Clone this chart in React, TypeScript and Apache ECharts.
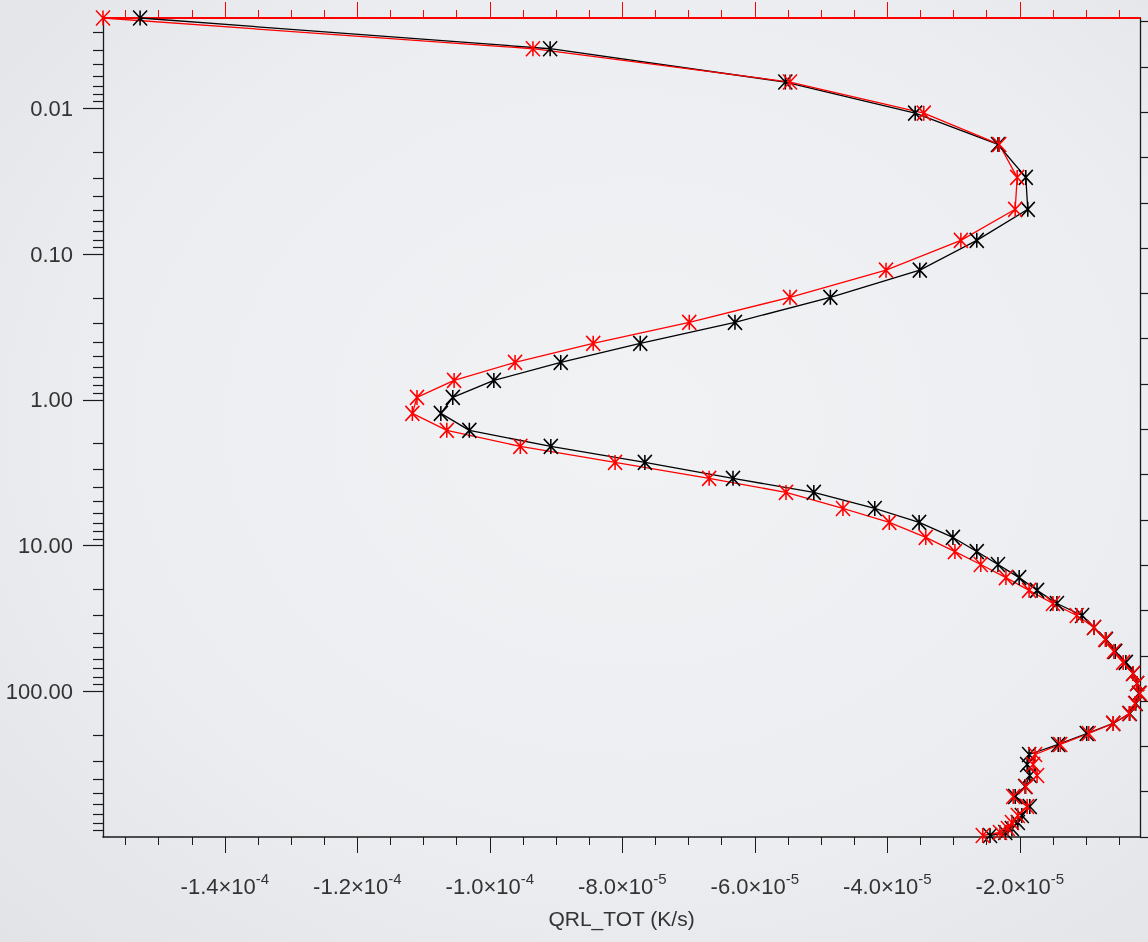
import React, { useEffect, useRef } from "react";
import * as echarts from "echarts";

// Pressure levels (hPa)
const levels = [
  0.0024, 0.0039, 0.0066, 0.0108, 0.0177, 0.0298, 0.0493, 0.0805, 0.129, 0.198,
  0.294, 0.41, 0.554, 0.736, 0.963, 1.24, 1.62, 2.09, 2.69, 3.46,
  4.32, 5.57, 6.94, 8.8, 11.0, 13.5, 16.6, 20.3, 25.0, 30.2,
  36.5, 44.1, 53.3, 63.4, 75.5, 88.4, 103.5, 121.3, 142.1, 166.3,
  194.9, 231.8, 271.6, 318.0, 378.4, 450.2, 527.2, 617.7, 712.0, 795.4,
  874.4, 931.3, 976.5,
];

// QRL_TOT (K/s), black profile
const blackValues = [
  -15.28e-5, -9.09e-5, -5.54e-5, -3.58e-5, -2.33e-5, -1.91e-5, -1.88e-5, -2.65e-5, -3.51e-5, -4.86e-5,
  -6.3e-5, -7.73e-5, -8.93e-5, -9.94e-5, -10.56e-5, -10.74e-5, -10.31e-5, -9.08e-5, -7.66e-5, -6.33e-5,
  -5.11e-5, -4.19e-5, -3.52e-5, -3.01e-5, -2.65e-5, -2.33e-5, -2.01e-5, -1.74e-5, -1.44e-5, -1.06e-5,
  -0.88e-5, -0.7e-5, -0.56e-5, -0.4e-5, -0.29e-5, -0.23e-5, -0.2e-5, -0.25e-5, -0.34e-5, -0.59e-5,
  -0.99e-5, -1.42e-5, -1.86e-5, -1.89e-5, -1.85e-5, -1.92e-5, -2.07e-5, -1.85e-5, -1.97e-5, -2.03e-5,
  -2.12e-5, -2.22e-5, -2.45e-5,
];

// QRL_TOT (K/s), red profile
const redValues = [
  -15.84e-5, -9.35e-5, -5.47e-5, -3.45e-5, -2.31e-5, -2.04e-5, -2.07e-5, -2.89e-5, -4.02e-5, -5.47e-5,
  -6.99e-5, -8.44e-5, -9.62e-5, -10.54e-5, -11.1e-5, -11.17e-5, -10.65e-5, -9.54e-5, -8.11e-5, -6.69e-5,
  -5.53e-5, -4.67e-5, -3.97e-5, -3.42e-5, -2.98e-5, -2.59e-5, -2.21e-5, -1.86e-5, -1.5e-5, -1.14e-5,
  -0.88e-5, -0.71e-5, -0.58e-5, -0.44e-5, -0.29e-5, -0.23e-5, -0.19e-5, -0.26e-5, -0.35e-5, -0.59e-5,
  -0.96e-5, -1.39e-5, -1.77e-5, -1.8e-5, -1.74e-5, -1.91e-5, -2.1e-5, -1.89e-5, -2.03e-5, -2.12e-5,
  -2.18e-5, -2.3e-5, -2.56e-5,
];

// Axis ranges and ticks
const X_MIN = -15.84e-5;
const X_MAX = -0.186e-5;
const xMajorTicks = [-14e-5, -12e-5, -10e-5, -8e-5, -6e-5, -4e-5, -2e-5];
const xMinorTicks = [
  -15.5e-5, -15e-5, -14.5e-5, -13.5e-5, -13e-5, -12.5e-5, -11.5e-5, -11e-5, -10.5e-5,
  -9.5e-5, -9e-5, -8.5e-5, -7.5e-5, -7e-5, -6.5e-5, -5.5e-5, -5e-5, -4.5e-5,
  -3.5e-5, -3e-5, -2.5e-5, -1.5e-5, -1e-5, -0.5e-5,
];
const P_MIN = 0.0024;
const P_MAX = 1000;
const pMajorTicks = [0.01, 0.1, 1, 10, 100];
const pMinorTicks = [
  0.003, 0.004, 0.005, 0.006, 0.007, 0.008, 0.009,
  0.02, 0.03, 0.04, 0.05, 0.06, 0.07, 0.08, 0.09,
  0.2, 0.3, 0.4, 0.5, 0.6, 0.7, 0.8, 0.9,
  2, 3, 4, 5, 6, 7, 8, 9,
  20, 30, 40, 50, 60, 70, 80, 90,
  200, 300, 400, 500, 600, 700, 800, 900,
];
const H_MAX = 90.4;
const heightTicks = [0, 5, 10, 15, 20, 25, 30, 35, 40, 45, 50, 55, 60, 65, 70, 75, 80, 85, 90];

const FONT = "'Liberation Sans', Arial, Helvetica, sans-serif";
const AXIS_BLACK = "#1a1a1a";
const RED = "#ff0000";

const asterisk = "path://M1,0L1,2M0,0L2,2M0,2L2,0";

function sciLabel(v: number): string {
  const exp = Math.floor(Math.log10(Math.abs(v)) + 1e-9);
  const mant = v / Math.pow(10, exp);
  return `{b|${mant.toFixed(1)}×10}{s|${exp}}`;
}

export default function App() {
  const ref = useRef<HTMLDivElement>(null);
  useEffect(() => {
    if (!ref.current) return;
    const chart = echarts.init(ref.current, null, { renderer: "svg" });
    const log = (p: number) => Math.log10(p);
    const lgMin = log(P_MIN);
    const lgMax = log(P_MAX);

    const baseHiddenX = {
      type: "value",
      min: X_MIN,
      max: X_MAX,
      splitLine: { show: false },
    };
    const baseHiddenY = {
      type: "value",
      min: lgMin,
      max: lgMax,
      inverse: true,
      splitLine: { show: false },
    };

    const mkSeries = (vals: number[], color: string, name: string) => ({
      name,
      type: "line",
      xAxisIndex: 0,
      yAxisIndex: 0,
      data: vals.map((v, i) => [v, levels[i]]),
      symbol: asterisk,
      symbolSize: [14, 15],
      showAllSymbol: true,
      lineStyle: { color, width: 1.3 },
      itemStyle: { color: "rgba(0,0,0,0)", borderColor: color, borderWidth: 1.6 },
      emphasis: { disabled: true },
      clip: false,
    });

    chart.setOption({
      animation: false,
      backgroundColor: "transparent",
      textStyle: { fontFamily: FONT },
      grid: { left: 103, right: 8, top: 18, bottom: 105, containLabel: false },
      xAxis: [
        {
          ...baseHiddenX,
          position: "bottom",
          axisLine: { show: true, onZero: false, lineStyle: { color: AXIS_BLACK, width: 1.6 } },
          axisTick: { show: true, customValues: xMajorTicks, length: 16, lineStyle: { color: AXIS_BLACK, width: 1 } },
          axisLabel: {
            show: true,
            customValues: xMajorTicks,
            margin: 34,
            formatter: (v: number) => sciLabel(v),
            rich: {
              b: { fontSize: 22, color: "#333", fontFamily: FONT, lineHeight: 26, verticalAlign: "bottom" },
              s: { fontSize: 15, color: "#333", fontFamily: FONT, verticalAlign: "top", lineHeight: 14 },
            },
          },
          name: "QRL_TOT (K/s)",
          nameLocation: "middle",
          nameGap: 71,
          nameTextStyle: { fontSize: 21, color: "#333", fontFamily: FONT },
        },
        {
          ...baseHiddenX,
          position: "bottom",
          axisLine: { show: false, onZero: false },
          axisTick: { show: true, customValues: xMinorTicks, length: 8, lineStyle: { color: AXIS_BLACK, width: 1 } },
          axisLabel: { show: false },
        },
        {
          ...baseHiddenX,
          position: "top",
          axisLine: { show: true, onZero: false, lineStyle: { color: RED, width: 1.8 } },
          axisTick: { show: true, customValues: xMajorTicks, length: 16, lineStyle: { color: RED, width: 1 } },
          axisLabel: { show: false },
        },
        {
          ...baseHiddenX,
          position: "top",
          axisLine: { show: false, onZero: false },
          axisTick: { show: true, customValues: xMinorTicks, length: 8, lineStyle: { color: RED, width: 1 } },
          axisLabel: { show: false },
        },
      ],
      yAxis: [
        {
          type: "log",
          logBase: 10,
          min: P_MIN,
          max: P_MAX,
          inverse: true,
          show: false,
          splitLine: { show: false },
        },
        {
          ...baseHiddenY,
          position: "left",
          axisLine: { show: true, onZero: false, lineStyle: { color: AXIS_BLACK, width: 1.3 } },
          axisTick: { show: true, customValues: pMajorTicks.map(log), length: 20, lineStyle: { color: AXIS_BLACK, width: 1.2 } },
          axisLabel: {
            show: true,
            customValues: pMajorTicks.map(log),
            margin: 30,
            fontSize: 22,
            color: "#333",
            fontFamily: FONT,
            formatter: (v: number) => Math.pow(10, v).toFixed(2),
          },
        },
        {
          ...baseHiddenY,
          position: "left",
          axisLine: { show: false, onZero: false },
          axisTick: { show: true, customValues: pMinorTicks.map(log), length: 10, lineStyle: { color: AXIS_BLACK, width: 1.2 } },
          axisLabel: { show: false },
        },
        {
          type: "value",
          min: 0,
          max: H_MAX,
          position: "right",
          splitLine: { show: false },
          axisLine: { show: true, onZero: false, lineStyle: { color: AXIS_BLACK, width: 1.3 } },
          axisTick: { show: true, customValues: heightTicks, length: 8, lineStyle: { color: AXIS_BLACK, width: 1.2 } },
          axisLabel: { show: false },
        },
      ],
      series: [mkSeries(blackValues, "#000000", "black"), mkSeries(redValues, RED, "red")],
    });
    return () => chart.dispose();
  }, []);

  return (
    <div
      style={{
        position: "fixed",
        left: 0,
        top: 0,
        width: 1148,
        height: 942,
        background: "radial-gradient(ellipse at 55% 45%, #f1f2f4 0%, #eceef1 55%, #e1e3e7 100%)",
      }}
    >
      <div ref={ref} style={{ width: 1148, height: 942 }} />
    </div>
  );
}
